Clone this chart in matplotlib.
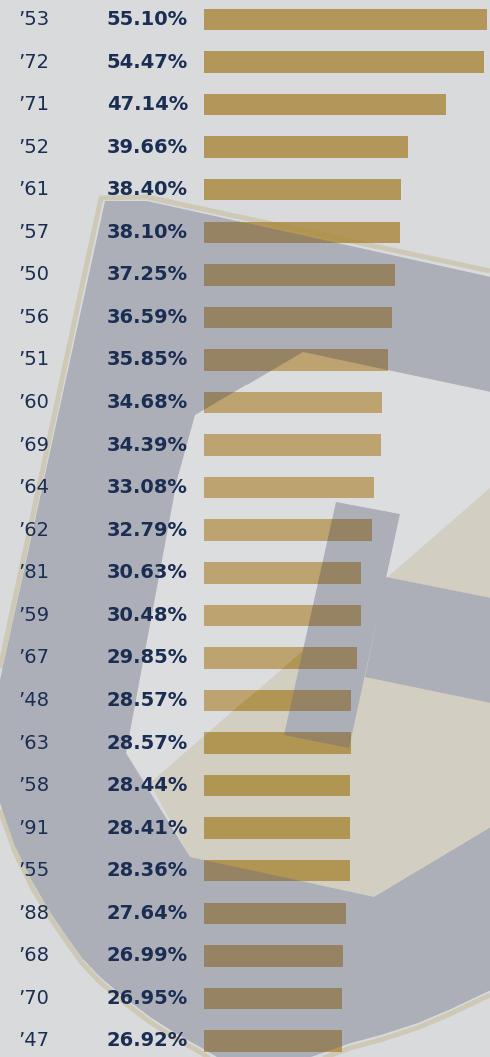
import numpy as np
import matplotlib
matplotlib.use("Agg")
import matplotlib.pyplot as plt
from matplotlib.path import Path

# class years and their percentages, top to bottom
years = ["’53", "’72", "’71", "’52", "’61", "’57", "’50", "’56", "’51", "’60",
         "’69", "’64", "’62", "’81", "’59", "’67", "’48", "’63", "’58", "’91",
         "’55", "’88", "’68", "’70", "’47"]
values = [55.10, 54.47, 47.14, 39.66, 38.40, 38.10, 37.25, 36.59, 35.85, 34.68,
          34.39, 33.08, 32.79, 30.63, 30.48, 29.85, 28.57, 28.57, 28.44, 28.41,
          28.36, 27.64, 26.99, 26.95, 26.92]

W, H = 490, 1057
bg = "#d9dadc"
gold = "#b3975a"
navy = "#1a2d52"

fig = plt.figure(figsize=(W / 100, H / 100), dpi=100)
fig.patch.set_facecolor(bg)

# bars
ax = fig.add_axes([0, 0, 1, 1])
ax.set_facecolor("none")
ax.axis("off")
pos = np.arange(len(values))
ax.barh(pos, values, height=0.505, color=gold, left=0)
ax.set_xlim(-204 / 5.136, (W - 204) / 5.136)
ax.set_ylim((H - 19.5) / 42.56, -19.5 / 42.56)

# background monogram (decoration), rasterised then laid over the bars
grey_pts = [(105, 201), (147, 201), (490, 277), (490, 392), (302, 352), (195, 415),
            (177, 480), (126, 753), (190, 857), (373, 897), (490, 827), (490, 990),
            (450, 1009), (417, 1023), (380, 1035), (350, 1043), (310, 1057),
            (217, 1057), (200, 1047), (175, 1033), (150, 1017), (125, 998),
            (100, 977), (82, 958), (67, 937), (50, 912), (33, 883), (15, 846),
            (0, 803), (0, 680)]
white_pts = [(302, 352), (490, 392), (490, 487), (150, 783), (126, 753), (177, 480),
             (195, 415)]
tan_pts = [(150, 783), (490, 487), (490, 827), (373, 897), (190, 857)]
stroke_pts = [(335, 502), (399, 514), (348, 748), (283, 735)]
band_pts = [(385, 577), (490, 598), (490, 703), (364, 677)]

ss = 3
gx, gy = np.meshgrid((np.arange(W * ss) + 0.5) / ss, (np.arange(H * ss) + 0.5) / ss)
grid = np.column_stack([gx.ravel(), gy.ravel()])
label = np.zeros(len(grid), dtype=int)
for k, pts in [(1, white_pts), (2, tan_pts), (3, grey_pts), (3, stroke_pts), (3, band_pts)]:
    label[Path(pts).contains_points(grid)] = k
colours = np.array([[0, 0, 0, 0],
                    [245, 245, 247, 0.14 * 255],
                    [170, 138, 47, 0.15 * 255],
                    [94, 95, 117, 0.35 * 255]]) / 255
rgba = colours[label].reshape(H * ss, W * ss, 4)
# premultiplied box downsample for smooth edges
a = rgba[..., 3:]
pm = np.concatenate([rgba[..., :3] * a, a], axis=2)
pm = pm.reshape(H, ss, W, ss, 4).mean(axis=(1, 3))
out = pm.copy()
nz = out[..., 3] > 0
out[nz, :3] = pm[nz, :3] / pm[nz, 3:4]

ax2 = fig.add_axes([0, 0, 1, 1], zorder=2)
ax2.set_facecolor("none")
ax2.axis("off")
ax2.imshow(out, extent=(0, W, H, 0), interpolation="nearest", aspect="auto")
ax2.set_xlim(0, W)
ax2.set_ylim(H, 0)

# thin tan outline around the monogram
edge_kw = dict(color="#aa8a2f", alpha=0.22, lw=3.6, solid_capstyle="butt")
ax2.plot([0, 101, 147, 490], [668, 198, 197, 271], **edge_kw)
ax2.plot([0, 15, 33, 50, 67, 82, 100, 125, 150, 175, 200, 212],
         [810, 852, 889, 917, 942, 963, 982, 1003, 1022, 1038, 1052, 1060], **edge_kw)
ax2.plot([490, 450, 417, 380, 350, 318], [995, 1014, 1028, 1040, 1048, 1060], **edge_kw)

# labels on top
ax3 = fig.add_axes([0, 0, 1, 1], zorder=3, sharey=ax)
ax3.set_facecolor("none")
ax3.axis("off")
trans = ax3.get_yaxis_transform()
for i, (yr, v) in enumerate(zip(years, values)):
    ax3.text(18 / W, i, yr, transform=trans, ha="left", va="center",
             fontsize=14, color=navy, family="DejaVu Sans")
    ax3.text(188 / W, i, f"{v:.2f}%", transform=trans, ha="right", va="center",
             fontsize=14, fontweight="bold", color=navy, family="DejaVu Sans")

fig.savefig("out.png", dpi=100, facecolor=bg)
